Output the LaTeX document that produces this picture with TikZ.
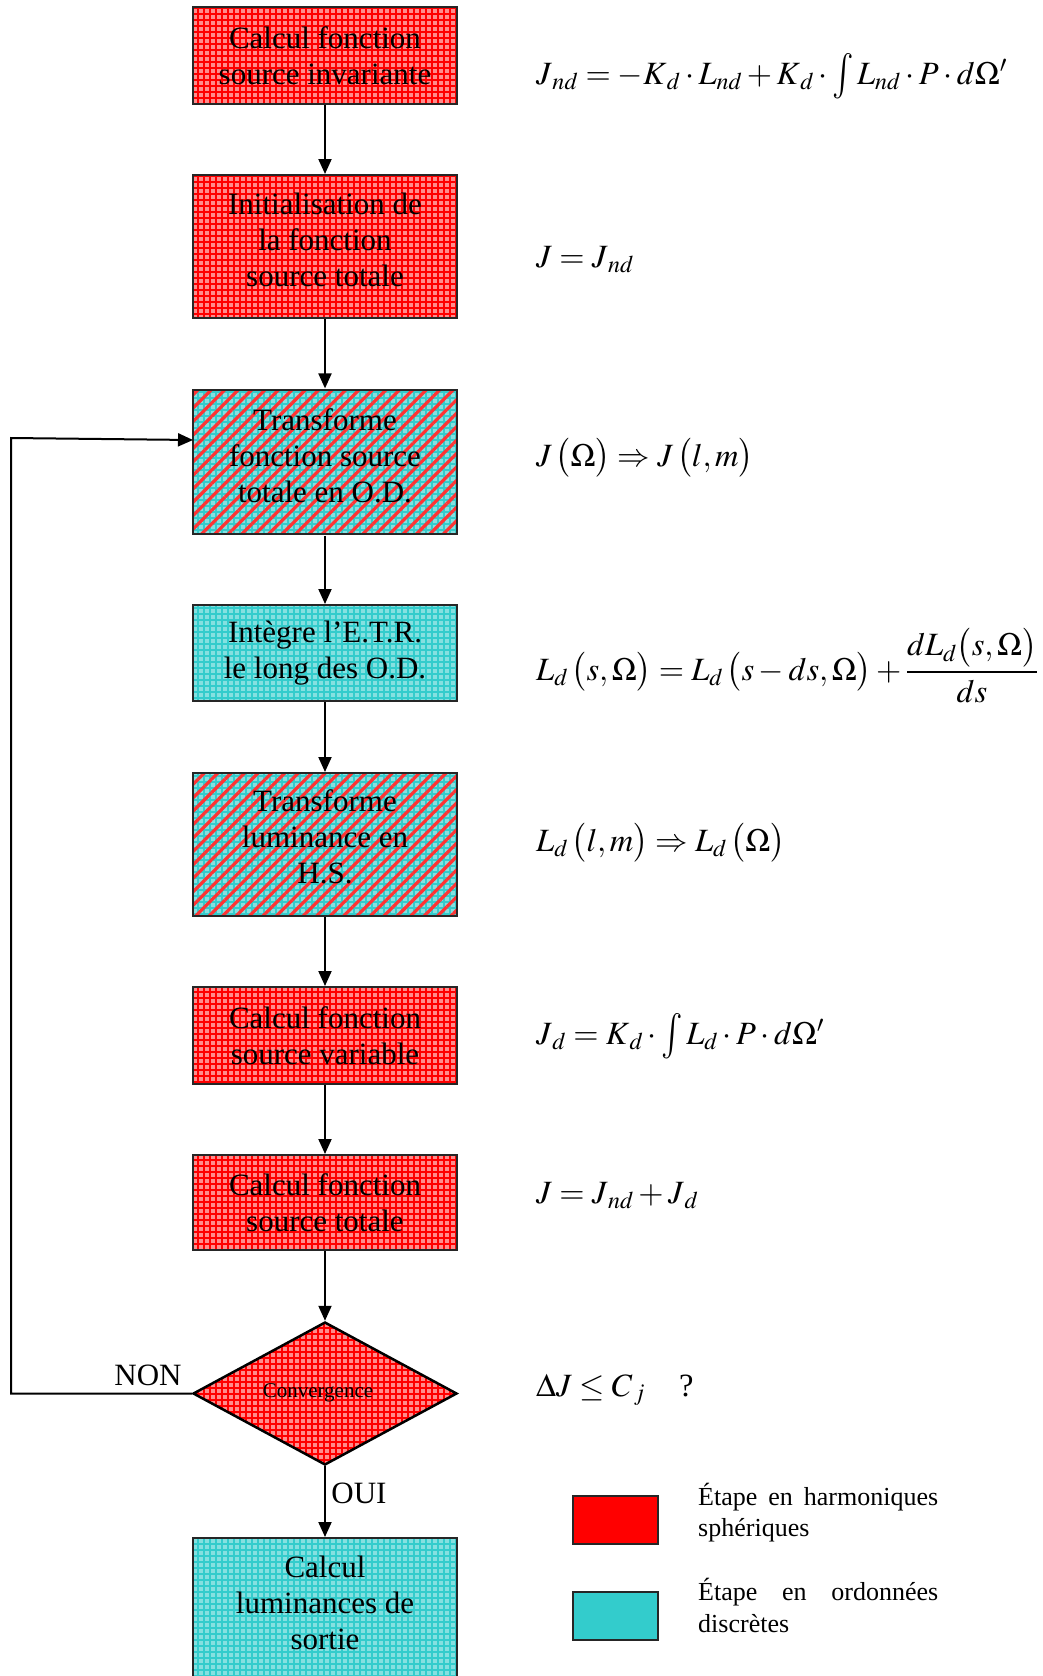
\documentclass[tikz,border=0pt]{standalone}
\usepackage{mathptmx}
\usepackage{fontspec}
\setmainfont{Liberation Serif}
\usetikzlibrary{shapes.geometric,arrows.meta,patterns.meta}
\definecolor{myred}{RGB}{255,0,0}
\definecolor{mycyan}{RGB}{51,204,204}
\newcommand{\midint}{\mathop{\vcenter{\hbox{\scalebox{1.1}[1.4]{$\int$}}}}\nolimits}
\tikzset{
  x=1pt, y=-1pt,
  boxfont/.style={font=\fontsize{31}{36}\selectfont},
  box/.style={draw=black!85, line width=2pt, minimum width=264pt, align=center, boxfont, inner sep=0pt},
  redbox/.style={box, preaction={fill=red!45!white}, pattern={Hatch[angle=0,distance=6pt,line width=1.1pt]}, pattern color=red},
  cyanbox/.style={box, preaction={fill=mycyan!60!white}, pattern={Hatch[angle=0,distance=6pt,line width=1.1pt]}, pattern color=mycyan},
  mixbox/.style={box, preaction={fill=mycyan!60!white}, preaction={pattern={Hatch[angle=0,distance=6pt,line width=1.1pt]}, pattern color=mycyan}, pattern={Lines[angle=45,distance=9.5pt,line width=3.2pt]}, pattern color=red!80!white},
  boxtext/.style={align=center, boxfont, inner sep=0pt},
  conn/.style={line width=2pt, -{Triangle[length=15pt,width=13pt]}},
  formula/.style={anchor=base west, inner sep=0pt, font=\fontsize{32.5}{38}\selectfont},
  legtext/.style={anchor=base west, inner sep=0pt, font=\fontsize{26}{31}\selectfont},
  legbox/.style={draw=black!85, line width=1.5pt, minimum width=85pt, minimum height=48pt, inner sep=0pt},
  lbl/.style={boxfont, inner sep=0pt},
}
\begin{document}
\begin{tikzpicture}
\useasboundingbox (0,0) rectangle (1042,1676);
% boxes
\node[redbox, minimum height=97pt] (b1) at (325,55.5) {Calcul fonction\\source invariante};
\node[redbox, minimum height=143pt] (b2) at (325,246.5) {};
\node[boxtext] (b2t) at (325,239.5) {Initialisation de\\la fonction\\source totale};
\node[mixbox, minimum height=144pt] (b3) at (325,462) {};
\node[boxtext] (b3t) at (325,456) {Transforme\\fonction source\\totale en O.D.};
\node[cyanbox, minimum height=96pt] (b4) at (325,653) {Intègre l’E.T.R.\\le long des O.D.};
\node[mixbox, minimum height=143pt] (b5) at (325,844.5) {};
\node[boxtext] (b5t) at (325,837) {Transforme\\luminance en\\H.S.};
\node[redbox, minimum height=97pt] (b6) at (325,1035.5) {Calcul fonction\\source variable};
\node[redbox, minimum height=95pt] (b7) at (325,1202.5) {Calcul fonction\\source totale};
\node[diamond, draw=black, line width=2.5pt, minimum width=264pt, minimum height=143pt, inner sep=0pt,
      preaction={fill=red!45!white}, pattern={Hatch[angle=0,distance=6pt,line width=1.1pt]}, pattern color=red] (dia) at (325,1393.5) {};
\node[inner sep=0pt, font=\fontsize{21}{24}\selectfont] (diat) at (318,1393) {Convergence};
\node[cyanbox, minimum height=175pt, anchor=north] (b8) at (325,1537) {};
\node[boxtext] (b8t) at (325,1602.5) {Calcul\\luminances de\\sortie};
% connectors
\draw[conn] (b1) -- (b2);
\draw[conn] (b2) -- (b3);
\draw[conn] (b3) -- (b4);
\draw[conn] (b4) -- (b5);
\draw[conn] (b5) -- (b6);
\draw[conn] (b6) -- (b7);
\draw[conn] (b7) -- (dia);
\draw[conn] (dia) -- (b8);
\coordinate (loopA) at (11,1393.5);
\coordinate (loopB) at (11,438);
\coordinate (loopC) at (193,440);
\draw[conn] (dia.west) -- (loopA) -- (loopB) -- (loopC);
\node[lbl] (non) at (148,1375) {NON};
\node[lbl] (oui) at (359,1493) {OUI};
% formulas
\node[formula] (f1) at (536,84) {$J_{\,nd}=-K_{\,d}\cdot L_{nd}+K_{\,d}\cdot\midint L_{nd}\cdot P\cdot d\Omega'$};
\node[formula] (f2) at (536,267) {$J=J_{\,nd}$};
\node[formula] (f3) at (536,466) {$J\,\bigl(\Omega\bigr)\Rightarrow J\,\bigl(l,m\bigr)$};
\node[formula] (f4) at (536,680) {$L_d\,\bigl(s,\Omega\bigr)=L_d\,\bigl(s-ds,\Omega\bigr)+{\displaystyle\frac{dL_d\bigl(s,\Omega\bigr)}{ds}}$};
\node[formula] (f5) at (536,851) {$L_d\,\bigl(l,m\bigr)\Rightarrow L_d\,\bigl(\Omega\bigr)$};
\node[formula] (f6) at (536,1044) {$J_{\,d}=K_{\,d}\cdot\midint L_d\cdot P\cdot d\Omega'$};
\node[formula] (f7) at (536,1203) {$J=J_{\,nd}+J_{\,d}$};
\node[formula] (f8) at (536,1396) {$\Delta J\le C_{\,j}$\hspace{34pt}?};
% legend
\node[legbox, fill=myred] (lr) at (615.5,1520) {};
\node[legbox, fill=mycyan] (lc) at (615.5,1616) {};
\node[legtext] (l1a) at (698,1505) {\makebox[240pt][s]{Étape en harmoniques}};
\node[legtext] (l1b) at (698,1536) {sphériques};
\node[legtext] (l2a) at (698,1600) {\makebox[240pt][s]{Étape en ordonnées}};
\node[legtext] (l2b) at (698,1632) {discrètes};
\end{tikzpicture}
\end{document}
